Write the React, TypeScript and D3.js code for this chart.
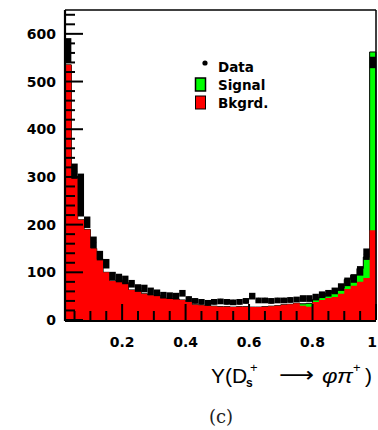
import React from "react";
import * as d3 from "d3";

const binCenters = [
  0.03, 0.05, 0.07, 0.09, 0.11, 0.13, 0.15, 0.17, 0.19, 0.21,
  0.23, 0.25, 0.27, 0.29, 0.31, 0.33, 0.35, 0.37, 0.39, 0.41,
  0.43, 0.45, 0.47, 0.49, 0.51, 0.53, 0.55, 0.57, 0.59, 0.61,
  0.63, 0.65, 0.67, 0.69, 0.71, 0.73, 0.75, 0.77, 0.79, 0.81,
  0.83, 0.85, 0.87, 0.89, 0.91, 0.93, 0.95, 0.97, 0.99,
];
const binWidth = 0.02;

const background = [
  535, 300, 210, 190, 150, 128, 100, 82, 84, 78,
  63, 63, 55, 52, 52, 46, 45, 44, 42, 38,
  32, 31, 30, 29, 28, 28, 27, 28, 28, 27,
  27, 28, 29, 30, 32, 33, 35, 30, 28, 38,
  42, 46, 48, 55, 65, 72, 80, 88, 188,
];
const signal = [
  0, 0, 0, 0, 0, 0, 0, 0, 0, 0,
  0, 0, 0, 0, 0, 0, 0, 0, 0, 0,
  0, 0, 0, 0, 0, 0, 0, 0, 0, 0,
  0, 0, 0, 0, 0, 0, 0, 4, 7, 5,
  6, 10, 14, 12, 20, 22, 28, 44, 374,
];
const dataValues = [
  565, 312, 262, 205, 163, 135, 118, 92, 88, 84,
  76, 67, 66, 60, 57, 52, 51, 50, 56, 44,
  40, 38, 36, 38, 39, 38, 37, 38, 40, 50,
  41, 41, 40, 41, 41, 42, 43, 45, 45, 48,
  53, 56, 61, 69, 80, 87, 103, 138, 540,
];
const dataErrors = [
  26, 16, 45, 12, 12, 10, 10, 9, 9, 9,
  8, 8, 8, 8, 7, 7, 7, 7, 7, 6,
  6, 6, 6, 6, 6, 6, 6, 6, 6, 7,
  6, 6, 6, 6, 6, 6, 6, 7, 7, 7,
  7, 7, 7, 8, 9, 9, 10, 12, 12,
];
const yMajorTicks = [0, 100, 200, 300, 400, 500, 600];
const xMajorTicks = [0.2, 0.4, 0.6, 0.8, 1.0];
const xTickLabels = ["0.2", "0.4", "0.6", "0.8", "1"];
const legendLabels = ["Data", "Signal", "Bkgrd."];

const RED = "#ff0000";
const GREEN = "#00ff00";

export default function App() {
  const left = 65, right = 376, top = 10, bottom = 320;
  const x = d3.scaleLinear().domain([0.02, 1.0]).range([left, right]);
  const y = d3.scaleLinear().domain([0, 650]).range([bottom, top]);

  const bins = binCenters.map((c, i) => ({
    x0: c - binWidth / 2,
    x1: c + binWidth / 2,
    bkg: background[i],
    tot: background[i] + signal[i],
    sig: signal[i],
    d: dataValues[i],
    e: dataErrors[i],
  }));

  const stepPath = (vals: number[]) => {
    let p = `M${x(bins[0].x0)},${y(0)}`;
    bins.forEach((b, i) => {
      p += `L${x(b.x0)},${y(vals[i])}L${x(b.x1)},${y(vals[i])}`;
    });
    p += `L${x(bins[bins.length - 1].x1)},${y(0)}Z`;
    return p;
  };
  const totals = bins.map((b) => b.tot);

  const yMinor = d3.range(0, 650, 20).filter((v) => v % 100 !== 0);
  const xMinor = d3.range(0.05, 1.0, 0.05).filter((v) => Math.abs(v * 5 - Math.round(v * 5)) > 1e-6);

  const tickFont = "'DejaVu Sans', sans-serif";

  return (
    <svg
      width={378}
      height={430}
      style={{ position: "absolute", left: 0, top: 0, background: "#fff" }}
    >
      {/* stacked histogram */}
      <path d={stepPath(totals)} fill={GREEN} stroke="#000" strokeWidth={1} />
      <path d={stepPath(background)} fill={RED} stroke="none" />

      {/* data with errors */}
      {bins.map((b, i) => (
        <g key={i}>
          <rect
            x={x(b.x0)}
            width={x(b.x1) - x(b.x0)}
            y={y(b.d + b.e)}
            height={y(b.d - b.e) - y(b.d + b.e)}
            fill="#000"
          />
          <circle cx={x(binCenters[i])} cy={y(b.d)} r={2.6} fill="#000" />
        </g>
      ))}

      {/* ticks */}
      {yMajorTicks.map((v) => (
        <line key={"ym" + v} x1={left} x2={left + 18} y1={y(v)} y2={y(v)} stroke="#000" strokeWidth={2} />
      ))}
      {yMinor.map((v) => (
        <line key={"yn" + v} x1={left} x2={left + 10} y1={y(v)} y2={y(v)} stroke="#000" strokeWidth={2} />
      ))}
      {xMajorTicks.map((v) => (
        <line key={"xm" + v} x1={x(v)} x2={x(v)} y1={bottom} y2={bottom - 16} stroke="#000" strokeWidth={2} />
      ))}
      {xMinor.map((v) => (
        <line key={"xn" + v} x1={x(v)} x2={x(v)} y1={bottom} y2={bottom - 9} stroke="#000" strokeWidth={2} />
      ))}

      {/* frame */}
      <line x1={left} x2={right} y1={top} y2={top} stroke="#000" strokeWidth={1.5} />
      <line x1={right} x2={right} y1={top} y2={bottom} stroke="#000" strokeWidth={1.5} />
      <line x1={left} x2={left} y1={top} y2={bottom + 1} stroke="#000" strokeWidth={2.2} />
      <line x1={left} x2={right} y1={bottom + 1} y2={bottom + 1} stroke="#000" strokeWidth={2.2} />

      {/* tick labels */}
      {yMajorTicks.map((v) => (
        <text
          key={"yl" + v}
          x={56}
          y={y(v)}
          dy="0.36em"
          textAnchor="end"
          fontFamily={tickFont}
          fontWeight="bold"
          fontSize={14}
        >
          {v}
        </text>
      ))}
      {xMajorTicks.map((v, i) => (
        <text
          key={"xl" + v}
          x={Math.min(x(v), 372)}
          y={347}
          textAnchor="middle"
          fontFamily={tickFont}
          fontWeight="bold"
          fontSize={14}
        >
          {xTickLabels[i]}
        </text>
      ))}

      {/* legend */}
      <circle cx={205} cy={63} r={2.6} fill="#000" />
      <text x={218} y={72} fontFamily={tickFont} fontWeight="bold" fontSize={13.5}>{legendLabels[0]}</text>
      <rect x={195.5} y={78} width={10} height={13} fill={GREEN} stroke="#000" strokeWidth={1.5} />
      <text x={218} y={90} fontFamily={tickFont} fontWeight="bold" fontSize={13.5}>{legendLabels[1]}</text>
      <rect x={195.5} y={96} width={10} height={13} fill={RED} stroke="#000" strokeWidth={1} />
      <text x={218} y={108} fontFamily={tickFont} fontWeight="bold" fontSize={13.5}>{legendLabels[2]}</text>

      {/* axis title */}
      <g fontFamily="'Liberation Sans', Arial, sans-serif" fill="#000">
        <text x={211} y={383} fontSize={21}>Y(D</text>
        <text x={246} y={387} fontSize={12} fontWeight="bold">s</text>
        <text x={250} y={372} fontSize={13}>+</text>
        <text x={279} y={382} fontSize={21} fontFamily="'DejaVu Sans', sans-serif" textLength={35} lengthAdjust="spacingAndGlyphs">⟶</text>
        <text x={322} y={383} fontSize={21} fontStyle="italic" textLength={31} lengthAdjust="spacingAndGlyphs">φπ</text>
        <text x={353} y={372} fontSize={13}>+</text>
        <text x={365} y={383} fontSize={21}>)</text>
      </g>
      <text x={221} y={423} textAnchor="middle" fontFamily="'DejaVu Serif', 'Liberation Serif', serif" fontSize={18} fill="#222">(c)</text>
    </svg>
  );
}
